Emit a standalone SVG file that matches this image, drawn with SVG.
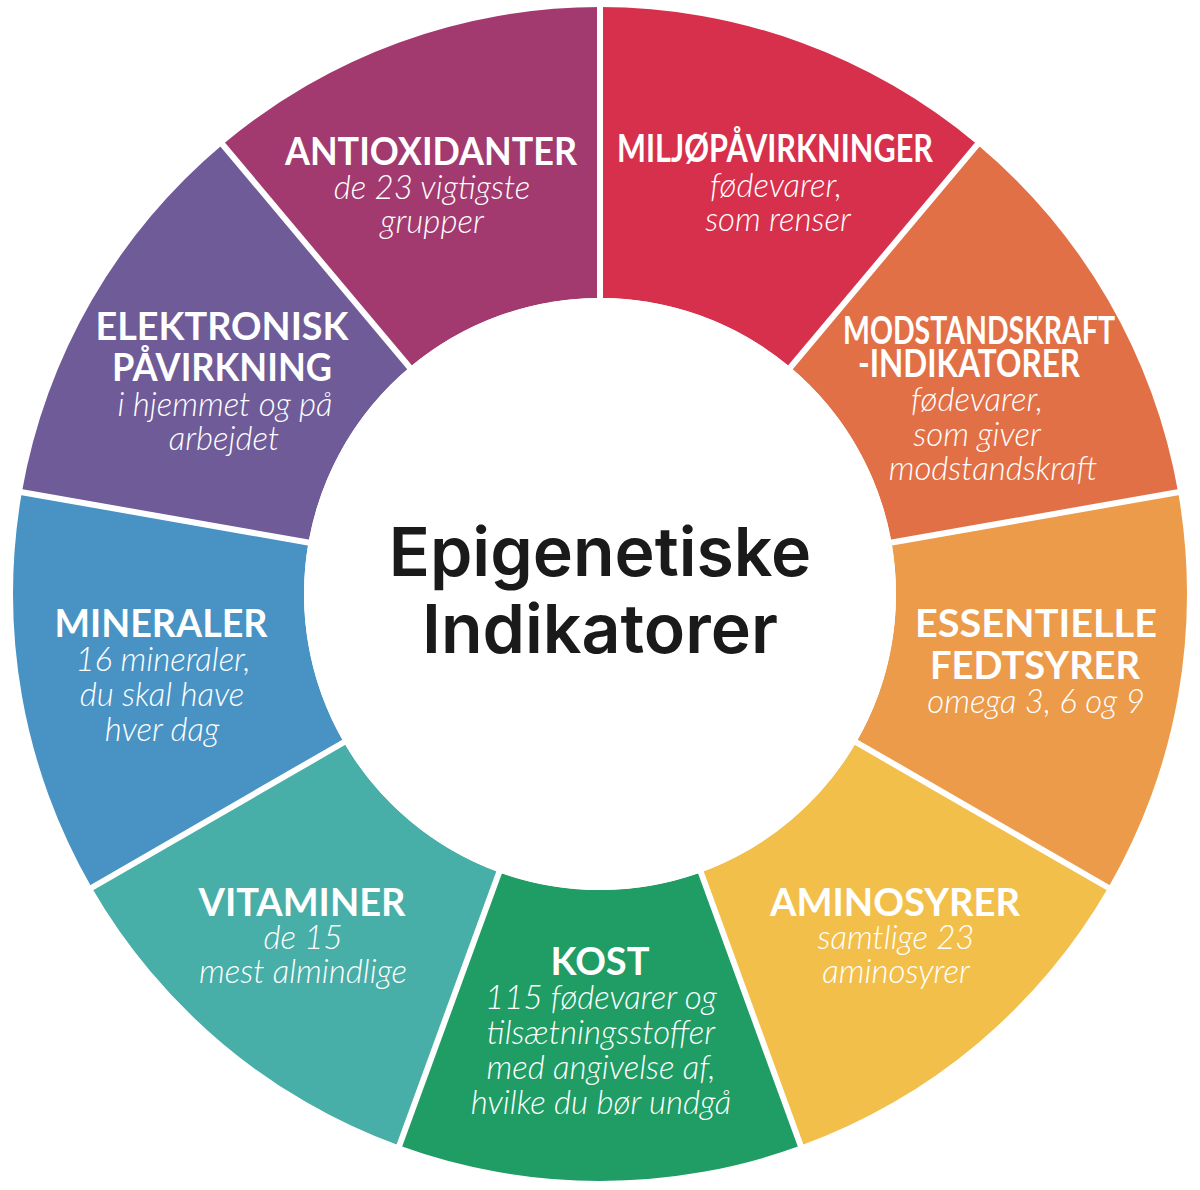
<svg xmlns="http://www.w3.org/2000/svg" width="1200" height="1190" viewBox="0 0 1200 1190">
<style>
.h{font-family:Lato,"Open Sans","Liberation Sans",sans-serif;font-weight:700;fill:#fff;text-anchor:middle;font-size:38px}
.s{font-family:Lato,"Open Sans","Liberation Sans",sans-serif;font-weight:300;font-style:italic;fill:#fff;text-anchor:middle;font-size:33px}
.t{font-family:Inter,"Noto Sans","Liberation Sans",sans-serif;font-weight:600;fill:#1a1a1a;text-anchor:middle;font-size:68px}
.sep{stroke:#fff;stroke-width:6;fill:none}
</style>
<rect width="1200" height="1190" fill="#fff"/>
<g id="antioxidanter">
<path d="M600,298 L600,7 A587,587 0 0 0 222.7,144.4 L409.7,367.3 A296,296 0 0 1 600,298 Z" fill="#A23A6F"/>
<text class="h" x="431" y="165" font-size="36" textLength="292" lengthAdjust="spacingAndGlyphs">ANTIOXIDANTER</text>
<text class="s" x="432" y="199">de 23 vigtigste</text>
<text class="s" x="432" y="233">grupper</text>
</g>
<g id="miljo">
<path d="M600,298 L600,7 A587,587 0 0 1 977.3,144.4 L790.3,367.3 A296,296 0 0 0 600,298 Z" fill="#D6304C"/>
<text class="h" x="775" y="162" font-size="31" textLength="316" lengthAdjust="spacingAndGlyphs">MILJØPÅVIRKNINGER</text>
<text class="s" x="776" y="197">fødevarer,</text>
<text class="s" x="778" y="231">som renser</text>
</g>
<g id="modstandskraft">
<path d="M790.3,367.3 L977.3,144.4 A587,587 0 0 1 1178.1,492.1 L891.5,542.6 A296,296 0 0 0 790.3,367.3 Z" fill="#E27046"/>
<text class="h" x="979" y="344" font-size="30" textLength="272" lengthAdjust="spacingAndGlyphs">MODSTANDSKRAFT</text>
<text class="h" x="969" y="377" font-size="30" textLength="222" lengthAdjust="spacingAndGlyphs">-INDIKATORER</text>
<text class="s" x="977" y="411">fødevarer,</text>
<text class="s" x="977" y="446">som giver</text>
<text class="s" x="993" y="480">modstandskraft</text>
</g>
<g id="essentielle">
<path d="M891.5,542.6 L1178.1,492.1 A587,587 0 0 1 1108.3,887.5 L856.3,742 A296,296 0 0 0 891.5,542.6 Z" fill="#EB9B49"/>
<text class="h" x="1036" y="637" textLength="242" lengthAdjust="spacingAndGlyphs">ESSENTIELLE</text>
<text class="h" x="1035" y="679" textLength="210" lengthAdjust="spacingAndGlyphs">FEDTSYRER</text>
<text class="s" x="1036" y="713">omega 3, 6 og 9</text>
</g>
<g id="aminosyrer">
<path d="M856.3,742 L1108.3,887.5 A587,587 0 0 1 800.8,1145.6 L701.2,872.2 A296,296 0 0 0 856.3,742 Z" fill="#F3BF4B"/>
<text class="h" x="895" y="916" textLength="250" lengthAdjust="spacingAndGlyphs">AMINOSYRER</text>
<text class="s" x="896" y="949">samtlige 23</text>
<text class="s" x="896" y="983">aminosyrer</text>
</g>
<g id="kost">
<path d="M701.2,872.2 L800.8,1145.6 A587,587 0 0 1 399.2,1145.6 L498.8,872.2 A296,296 0 0 0 701.2,872.2 Z" fill="#1F9D65"/>
<text class="h" x="600" y="975">KOST</text>
<text class="s" x="601" y="1009">115 fødevarer og</text>
<text class="s" x="601" y="1044">tilsætningsstoffer</text>
<text class="s" x="601" y="1079">med angivelse af,</text>
<text class="s" x="601" y="1114">hvilke du bør undgå</text>
</g>
<g id="vitaminer">
<path d="M498.8,872.2 L399.2,1145.6 A587,587 0 0 1 91.7,887.5 L343.7,742 A296,296 0 0 0 498.8,872.2 Z" fill="#48AEA8"/>
<text class="h" x="302" y="916">VITAMINER</text>
<text class="s" x="303" y="949">de 15</text>
<text class="s" x="303" y="983">mest almindlige</text>
</g>
<g id="mineraler">
<path d="M343.7,742 L91.7,887.5 A587,587 0 0 1 21.9,492.1 L308.5,542.6 A296,296 0 0 0 343.7,742 Z" fill="#4893C4"/>
<text class="h" x="161" y="637" textLength="213" lengthAdjust="spacingAndGlyphs">MINERALER</text>
<text class="s" x="163" y="671">16 mineraler,</text>
<text class="s" x="162" y="706">du skal have</text>
<text class="s" x="162" y="741">hver dag</text>
</g>
<g id="elektronisk">
<path d="M308.5,542.6 L21.9,492.1 A587,587 0 0 1 222.7,144.4 L409.7,367.3 A296,296 0 0 0 308.5,542.6 Z" fill="#6E5B98"/>
<text class="h" x="222" y="340" textLength="253" lengthAdjust="spacingAndGlyphs">ELEKTRONISK</text>
<text class="h" x="222" y="381" textLength="220" lengthAdjust="spacingAndGlyphs">PÅVIRKNING</text>
<text class="s" x="225" y="416">i hjemmet og på</text>
<text class="s" x="224" y="450">arbejdet</text>
</g>
<g id="connectors">
<line class="sep" x1="600" y1="300" x2="600" y2="0"/>
<line class="sep" x1="789" y1="369" x2="982" y2="139"/>
<line class="sep" x1="889" y1="543" x2="1185" y2="491"/>
<line class="sep" x1="854" y1="741" x2="1114" y2="891"/>
<line class="sep" x1="700" y1="870" x2="803" y2="1152"/>
<line class="sep" x1="500" y1="870" x2="397" y2="1152"/>
<line class="sep" x1="346" y1="741" x2="86" y2="891"/>
<line class="sep" x1="311" y1="543" x2="15" y2="491"/>
<line class="sep" x1="411" y1="369" x2="218" y2="139"/>
</g>
<g id="center">
<circle cx="600" cy="594" r="296" fill="#fff"/>
<text class="t" x="600" y="576">Epigenetiske</text>
<text class="t" x="600" y="653">Indikatorer</text>
</g>
</svg>
